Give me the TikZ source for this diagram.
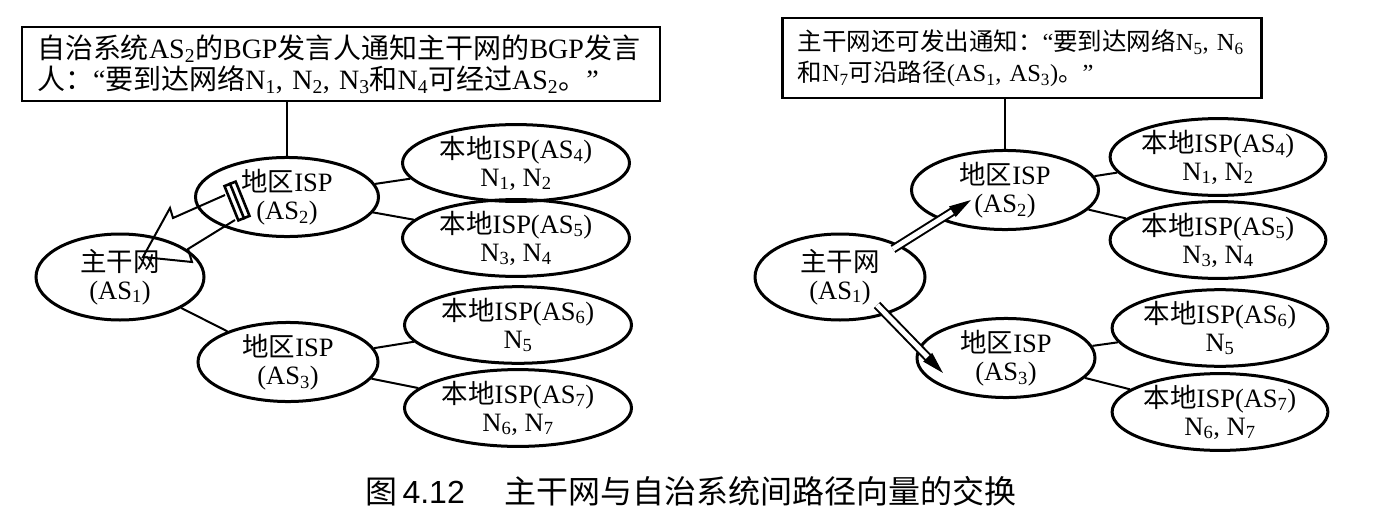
\documentclass[tikz,border=0pt]{standalone}
\usepackage{fontspec}
\setmainfont{Liberation Serif}
\newfontfamily\cjk{Noto Sans CJK SC}
\newfontfamily\capsans{Liberation Sans}
\usetikzlibrary{shapes.geometric,arrows.meta,calc}
\newcommand\zh[1]{{\cjk #1}}
\newcommand\subs[1]{\textsubscript{#1}}
\begin{document}
\begin{tikzpicture}[x=1pt,y=-1pt,
  ell/.style={ellipse, draw, line width=3pt, inner sep=0pt, align=center,
              font=\fontsize{26.5}{28}\selectfont},
  msgbox/.style={draw, line width=2.6pt, inner xsep=15pt, inner ysep=6pt, align=left},
  link/.style={line width=2pt},
  hollow/.style={line width=2pt, line join=miter},
  dblarrow/.style={double, double distance=5pt, line width=2pt,
              -{Triangle[length=22pt,width=12pt]}}]
\useasboundingbox (0,0) rectangle (1382,514);

% ---------------- left panel ----------------
\node[msgbox, text width=608pt, minimum height=74pt, font=\fontsize{28}{31}\selectfont] (lbox) at (341,64)
  {\mbox{\zh{自治系统}AS\subs{2}\zh{的}BGP\zh{发言人通知主干网的}BGP\zh{发言}}\\
   \mbox{\zh{人：}“\zh{要到达网络}N\subs{1}, N\subs{2}, N\subs{3}\zh{和}N\subs{4}\zh{可经过}AS\subs{2}\zh{。}”}};
\node[ell, minimum width=183pt, minimum height=62pt] (l2) at (287,197) {\zh{地区}ISP\\(AS\subs{2})};
\node[ell, minimum width=227pt, minimum height=65pt] (l4) at (516,163) {\zh{本地}ISP(AS\subs{4})\\N\subs{1}, N\subs{2}};
\node[ell, minimum width=227pt, minimum height=65pt] (l5) at (516,238) {\zh{本地}ISP(AS\subs{5})\\N\subs{3}, N\subs{4}};
\node[ell, minimum width=168pt, minimum height=86pt] (l1) at (120,277) {\zh{主干网}\\(AS\subs{1})};
\node[ell, minimum width=180pt, minimum height=60pt] (l3) at (288,362) {\zh{地区}ISP\\(AS\subs{3})};
\node[ell, minimum width=227pt, minimum height=64pt] (l6) at (518,325) {\zh{本地}ISP(AS\subs{6})\\N\subs{5}};
\node[ell, minimum width=227pt, minimum height=66pt] (l7) at (518,408) {\zh{本地}ISP(AS\subs{7})\\N\subs{6}, N\subs{7}};

\draw[link] (lbox.south -| l2.north) -- (l2.north);
\draw[link] (l2) -- (l4);
\draw[link] (l2) -- (l5);
\draw[link] (l1) -- (l3);
\draw[link] (l3) -- (l6);
\draw[link] (l3) -- (l7);

% hollow arrow from AS2 to AS1
\draw[hollow] (225,195) -- (173,218) -- (170,208) -- (143,257) -- (192,262) -- (188,249) -- (235,220);
\node[draw, line width=2.6pt, fill=white, minimum width=12pt, minimum height=37pt,
      inner sep=0pt, rotate=22] (stripe) at (237,201) {};
\draw[line width=2.6pt] (stripe.north) -- (stripe.south);

% ---------------- right panel ----------------
\node[msgbox, text width=449pt, minimum height=80pt, font=\fontsize{24.5}{31}\selectfont] (rbox) at (1022,58)
  {\mbox{\zh{主干网还可发出通知：}“\zh{要到达网络}N\subs{5}, N\subs{6}}\\
   \mbox{\zh{和}N\subs{7}\zh{可沿路径}(AS\subs{1}, AS\subs{3})\zh{。}”}};
\node[ell, minimum width=187pt, minimum height=58pt] (r2) at (1005,190) {\zh{地区}ISP\\(AS\subs{2})};
\node[ell, minimum width=192pt, minimum height=63pt] (r4) at (1218,157) {\zh{本地}ISP(AS\subs{4})\\N\subs{1}, N\subs{2}};
\node[ell, minimum width=192pt, minimum height=65pt] (r5) at (1218,240) {\zh{本地}ISP(AS\subs{5})\\N\subs{3}, N\subs{4}};
\node[ell, minimum width=170pt, minimum height=86pt] (r1) at (840,277) {\zh{主干网}\\(AS\subs{1})};
\node[ell, minimum width=178pt, minimum height=56pt] (r3) at (1006,358) {\zh{地区}ISP\\(AS\subs{3})};
\node[ell, minimum width=192pt, minimum height=64pt] (r6) at (1220,328) {\zh{本地}ISP(AS\subs{6})\\N\subs{5}};
\node[ell, minimum width=192pt, minimum height=64pt] (r7) at (1220,412) {\zh{本地}ISP(AS\subs{7})\\N\subs{6}, N\subs{7}};

\draw[link] (rbox.south -| r2.north) -- (r2.north);
\draw[link] (r2) -- (r4);
\draw[link] (r2) -- (r5);
\draw[link] (r3) -- (r6);
\draw[link] (r3) -- (r7);

\coordinate (t1) at (893,249);
\coordinate (h1) at (971,200);
\coordinate (t2) at (877,305);
\coordinate (h2) at (943,373);
\draw[dblarrow] (t1) -- (h1);
\draw[dblarrow] (t2) -- (h2);

% ---------------- caption ----------------
\node[anchor=base, font=\fontsize{32}{34}\selectfont, inner sep=0pt] (cap) at (691,503)
  {\zh{图}\,{\capsans 4.12}\hspace{40pt}\zh{主干网与自治系统间路径向量的交换}};
\end{tikzpicture}
\end{document}
